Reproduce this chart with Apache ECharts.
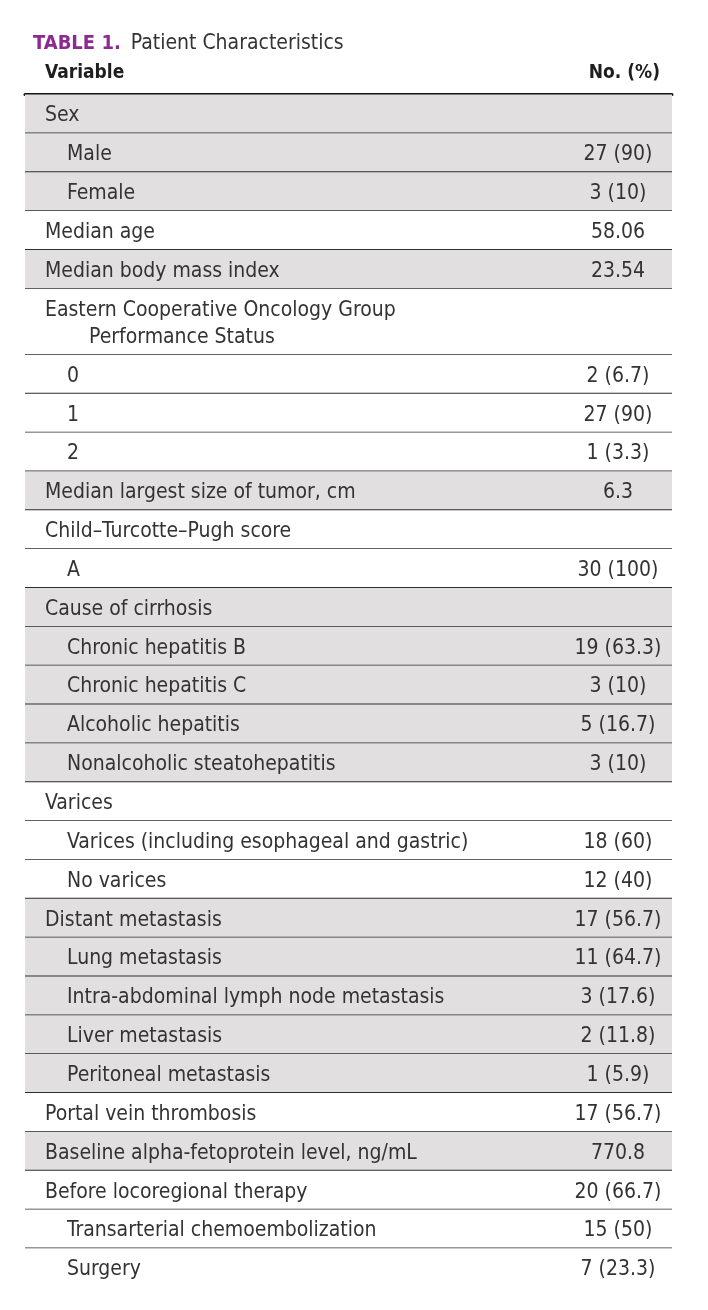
<!DOCTYPE html>
<html>
<head>
<meta charset="utf-8">
<script src="https://cdn.jsdelivr.net/npm/echarts@6/dist/echarts.min.js"></script>
<style>
  html, body { margin: 0; padding: 0; background: #ffffff; }
  #chart { width: 708px; height: 1310px; }
</style>
</head>
<body>
<div id="chart"></div>
<script>
// ---- Table data ----
const tableNumber = 'TABLE 1.';
const tableTitle = 'Patient Characteristics';
const headers = ['Variable', 'No. (%)'];

const labels = [
  'Sex', 'Male', 'Female',
  'Median age',
  'Median body mass index',
  'Eastern Cooperative Oncology Group\nPerformance Status', '0', '1', '2',
  'Median largest size of tumor, cm',
  'Child\u2013Turcotte\u2013Pugh score', 'A',
  'Cause of cirrhosis', 'Chronic hepatitis B', 'Chronic hepatitis C', 'Alcoholic hepatitis', 'Nonalcoholic steatohepatitis',
  'Varices', 'Varices (including esophageal and gastric)', 'No varices',
  'Distant metastasis', 'Lung metastasis', 'Intra-abdominal lymph node metastasis', 'Liver metastasis', 'Peritoneal metastasis',
  'Portal vein thrombosis',
  'Baseline alpha-fetoprotein level, ng/mL',
  'Before locoregional therapy', 'Transarterial chemoembolization', 'Surgery'
];

const values = [
  '', '27 (90)', '3 (10)',
  '58.06',
  '23.54',
  '', '2 (6.7)', '27 (90)', '1 (3.3)',
  '6.3',
  '', '30 (100)',
  '', '19 (63.3)', '3 (10)', '5 (16.7)', '3 (10)',
  '', '18 (60)', '12 (40)',
  '17 (56.7)', '11 (64.7)', '3 (17.6)', '2 (11.8)', '1 (5.9)',
  '17 (56.7)',
  '770.8',
  '20 (66.7)', '15 (50)', '7 (23.3)'
];

// 0 = top-level variable, 1 = sub-item
const levels = [
  0, 1, 1,
  0,
  0,
  0, 1, 1, 1,
  0,
  0, 1,
  0, 1, 1, 1, 1,
  0, 1, 1,
  0, 1, 1, 1, 1,
  0,
  0,
  0, 1, 1
];

// ---- Build rows (row extents in "row units") ----
const EXTRA_LINE = 0.7;
let cursor = 0;
let group = -1;
const rows = labels.map((lab, i) => {
  const nLines = lab.split('\n').length;
  const h = 1 + (nLines - 1) * EXTRA_LINE;
  if (levels[i] === 0) group++;
  const r = [i, cursor, cursor + h, group];
  cursor += h;
  return r;
});
const totalUnits = cursor;

const FONT = '"DejaVu Sans Condensed", "Liberation Sans Narrow", sans-serif';
const TEXT = '#333333';
const SHADE = '#e1dfe0';
const RULE = '#2e2e2e';
const FS = 21;

const chart = echarts.init(document.getElementById('chart'), null, { renderer: 'canvas' });

chart.setOption({
  backgroundColor: '#ffffff',
  animation: false,
  title: [
    {
      text: '{a|' + tableNumber + '} {b|' + tableTitle + '}',
      left: 33, top: 33, padding: 0,
      textStyle: {
        rich: {
          a: { fontFamily: FONT, fontSize: 20, fontWeight: 'bold', color: '#8d2a8f', padding: [0, 5, 0, 0] },
          b: { fontFamily: FONT, fontSize: 21, fontWeight: 'normal', color: TEXT }
        }
      }
    },
    {
      text: headers[0], left: 45, top: 64, padding: 0,
      textStyle: { fontFamily: FONT, fontSize: 19, fontWeight: 'bold', color: '#1e1e1e' }
    },
    {
      text: headers[1], right: 48, top: 64, padding: 0,
      textStyle: { fontFamily: FONT, fontSize: 19, fontWeight: 'bold', color: '#1e1e1e' }
    }
  ],
  grid: { left: 25, right: 36, top: 94.5, bottom: 22.8 },
  xAxis: {
    type: 'value', min: 0, max: 1, position: 'top',
    axisLine: { show: true, onZero: false, lineStyle: { color: '#151515', width: 3 } },
    axisTick: { show: false }, axisLabel: { show: false }, splitLine: { show: false }
  },
  yAxis: {
    type: 'value', min: 0, max: totalUnits, inverse: true,
    axisLine: { show: false }, axisTick: { show: false }, axisLabel: { show: false }, splitLine: { show: false }
  },
  series: [{
    type: 'custom',
    data: rows,
    clip: false,
    z: 1,
    renderItem: function (params, api) {
      const idx = api.value(0);
      const y0 = api.value(1), y1 = api.value(2), g = api.value(3);
      const p0 = api.coord([0, y0]);
      const p1 = api.coord([1, y1]);
      const w = p1[0] - p0[0];
      const unitPx = api.size([0, 1])[1];
      const children = [];
      children.push({
        type: 'rect',
        shape: { x: p0[0], y: p0[1], width: w, height: p1[1] - p0[1] },
        style: { fill: g % 2 === 0 ? SHADE : '#ffffff' }
      });
      if (idx < labels.length - 1) {
        children.push({
          type: 'line',
          shape: { x1: p0[0], y1: p1[1], x2: p1[0], y2: p1[1] },
          style: { stroke: RULE, lineWidth: 1.7 }
        });
      }
      const lines = labels[idx].split('\n');
      const indent = levels[idx] === 1 ? 42 : 20;
      lines.forEach((ln, k) => {
        children.push({
          type: 'text',
          style: {
            text: ln,
            x: p0[0] + indent + (k > 0 ? 44 : 0),
            y: p0[1] + unitPx / 2 + 2 + k * unitPx * EXTRA_LINE,
            fill: TEXT,
            font: FS + 'px ' + FONT,
            align: 'left',
            verticalAlign: 'middle'
          }
        });
      });
      if (values[idx]) {
        children.push({
          type: 'text',
          style: {
            text: values[idx],
            x: p0[0] + w * 0.9165,
            y: p0[1] + unitPx / 2 + 2,
            fill: TEXT,
            font: FS + 'px ' + FONT,
            align: 'center',
            verticalAlign: 'middle'
          }
        });
      }
      return { type: 'group', children: children };
    }
  }]
});
</script>
</body>
</html>
